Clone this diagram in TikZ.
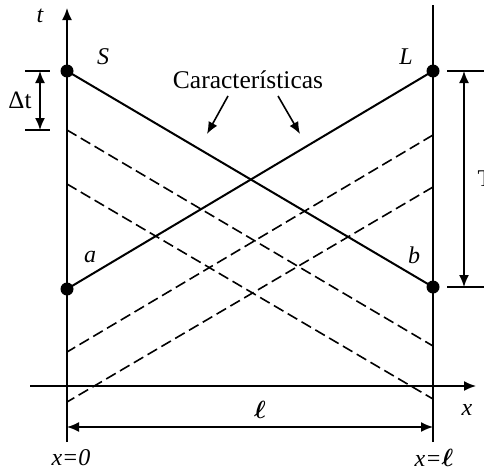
\documentclass[tikz,border=0pt]{standalone}
\usepackage{bm}
\usepackage{fontspec}
\setmainfont{Liberation Serif}
\usetikzlibrary{arrows.meta}
\newcommand{\bell}{\ensuremath{\bm{\ell}}}
\begin{document}
\begin{tikzpicture}[x=1pt,y=-1pt,
  axis/.style={line width=1.6pt},
  solidchar/.style={line width=2pt},
  dashchar/.style={line width=1.6pt, dash pattern=on 11pt off 5pt},
  tip/.style={-{Latex[length=12pt,width=10pt]}},
  dtip/.style={{Latex[length=12pt,width=10pt]}-{Latex[length=12pt,width=10pt]}},
  dot/.style={circle, fill=black, inner sep=0pt, minimum size=13pt},
  lbl/.style={font=\fontsize{24}{26}\selectfont\itshape, inner sep=0pt},
  rlbl/.style={font=\fontsize{24}{26}\selectfont, inner sep=0pt}]
\useasboundingbox (0,0) rectangle (484,471);
\clip (0,0) rectangle (484,471);
% coordinates
\coordinate (L0b) at (67,442);
\coordinate (L0t) at (67,8);
\coordinate (R0b) at (433,442);
\coordinate (R0t) at (433,5);
\coordinate (Xa) at (30,386);
\coordinate (Xb) at (476,386);
\coordinate (d1s) at (67,130);  \coordinate (d1e) at (433,346);
\coordinate (d2s) at (67,184);  \coordinate (d2e) at (433,399);
\coordinate (d3s) at (433,135); \coordinate (d3e) at (67,352);
\coordinate (d4s) at (433,187); \coordinate (d4e) at (67,402);
\coordinate (ellA) at (67,427); \coordinate (ellB) at (433,427);
\coordinate (dt1a) at (25,71); \coordinate (dt1b) at (50,71);
\coordinate (dt2a) at (25,130); \coordinate (dt2b) at (50,130);
\coordinate (dtA) at (40,71); \coordinate (dtB) at (40,130);
\coordinate (T1a) at (447,71); \coordinate (T1b) at (490,71);
\coordinate (T2a) at (447,287); \coordinate (T2b) at (490,287);
\coordinate (TA) at (464,71); \coordinate (TB) at (464,287);
% axes
\draw[axis,tip] (L0b) -- (L0t);
\draw[axis] (R0b) -- (R0t);
\draw[axis,tip] (Xa) -- (Xb);
% dashed characteristics
\draw[dashchar] (d1s) -- (d1e);
\draw[dashchar] (d2s) -- (d2e);
\draw[dashchar] (d3s) -- (d3e);
\draw[dashchar] (d4s) -- (d4e);
% points
\node[dot] (S) at (67,71) {};
\node[dot] (L) at (433,71) {};
\node[dot] (a) at (67,289) {};
\node[dot] (b) at (433,287) {};
\draw[solidchar] (S.center) -- (b.center);
\draw[solidchar] (a.center) -- (L.center);
% dimensions
\draw[axis] (dt1a) -- (dt1b);
\draw[axis] (dt2a) -- (dt2b);
\draw[axis,dtip] (dtA) -- (dtB);
\draw[axis] (T1a) -- (T1b);
\draw[axis] (T2a) -- (T2b);
\draw[axis,dtip] (TA) -- (TB);
\draw[axis,dtip] (ellA) -- (ellB);
% labels
\node[lbl] (tl) at (40,16) {t};
\node[lbl] (Sl) at (103,57) {S};
\node[lbl] (Ll) at (406,57) {L};
\node[lbl] (al) at (90,257) {a};
\node[lbl] (bl) at (414,255) {b};
\node[rlbl, font=\fontsize{25}{27}\selectfont] (dtl) at (20,100) {Δt};
\node[rlbl] (Tl) at (485,179) {T};
\node[lbl] (xl) at (467,410) {x};
\node[lbl] (elll) at (260,410) {\bell};
\node[lbl] (x0) at (71,458) {x=0};
\node[lbl] (xell) at (434,458) {x=\bell};
\node[rlbl, font=\fontsize{25.5}{27}\selectfont] (car) at (248,80) {Características};
\coordinate (ar1s) at (228,96); \coordinate (ar1e) at (207,134);
\coordinate (ar2s) at (278,96); \coordinate (ar2e) at (300,134);
\draw[axis,tip] (ar1s) -- (ar1e);
\draw[axis,tip] (ar2s) -- (ar2e);
\end{tikzpicture}
\end{document}
